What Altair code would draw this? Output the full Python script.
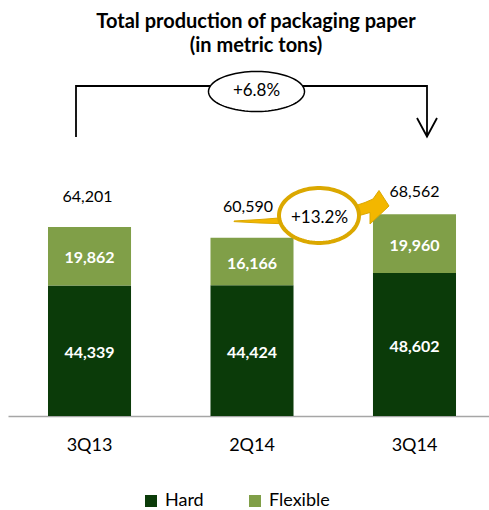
import math
import altair as alt
import pandas as pd

# ---------------- data ----------------
categories = ["3Q13", "2Q14", "3Q14"]
hard = [44339, 44424, 48602]
flexible = [19862, 16166, 19960]
totals = [64201, 60590, 68562]
series = ["Hard", "Flexible"]
change_year = "+6.8%"
change_quarter = "+13.2%"
title_lines = ["Total production of packaging paper", "(in metric tons)"]

# ---------------- style ----------------
colors = ["#0b3b09", "#809f48"]
GOLD = "#dba800"
ARROW_FILL = "#f3b700"
FONT = "Lato"
PAD_L, PAD_T = 8, 60
W, H = 481, 356

rows = []
for i, c in enumerate(categories):
    rows.append({"cat": c, "type": series[0], "value": hard[i], "order": 0})
    rows.append({"cat": c, "type": series[1], "value": flexible[i], "order": 1})
df = pd.DataFrame(rows)
tot_df = pd.DataFrame({"cat": categories, "total": totals})
anchor = pd.DataFrame({"a": [0]})

x_scale = alt.Scale(domain=categories, paddingInner=0.489, paddingOuter=0.2246, align=0.548)
y_scale = alt.Scale(domain=[0, 121000])
x_enc = alt.X(
    "cat:N", scale=x_scale, sort=categories,
    axis=alt.Axis(title=None, labelAngle=0, ticks=False, labelFontSize=18, labelFont=FONT,
                  labelColor="black", labelPadding=20, domainColor="#a6a6a6", domainWidth=1.5),
)

bars = alt.Chart(df).mark_bar().encode(
    x=x_enc,
    y=alt.Y("value:Q", stack="zero", scale=y_scale, axis=None),
    color=alt.Color(
        "type:N", scale=alt.Scale(domain=series, range=colors),
        legend=alt.Legend(title=None, orient="none", legendX=134, legendY=432, direction="horizontal",
                          symbolType="square", symbolSize=144, symbolStrokeWidth=0, labelFontSize=18,
                          labelFont=FONT, labelColor="black", columnPadding=42, labelOffset=5, padding=0),
    ),
    order=alt.Order("order:Q"),
)

seg_labels = alt.Chart(df).transform_stack(
    stack="value", groupby=["cat"], as_=["y0", "y1"], sort=[alt.SortField("order", order="ascending")]
).transform_calculate(mid="(datum.y0 + datum.y1) / 2").mark_text(
    font=FONT, fontSize=16, fontWeight="bold", color="white", dy=2
).encode(
    x=x_enc, y=alt.Y("mid:Q", scale=y_scale, axis=None), text=alt.Text("value:Q", format=",")
)

total_offsets = {"3Q13": (-2, -30), "2Q14": (-4, -31), "3Q14": (0, -22)}
total_layers = []
for c in categories:
    dx, dy = total_offsets[c]
    total_layers.append(
        alt.Chart(tot_df).transform_filter(alt.datum.cat == c).mark_text(
            font=FONT, fontSize=16, color="black", dx=dx, dy=dy
        ).encode(x=x_enc, y=alt.Y("total:Q", scale=y_scale, axis=None), text=alt.Text("total:Q", format=","))
    )


def path_of(points, cx, cy, close=True):
    s = "M " + " L ".join(f"{x - cx:.2f} {y - cy:.2f}" for x, y in points)
    return s + (" Z" if close else "")


def ellipse_pts(a, b, n=90):
    return [(a * math.cos(2 * math.pi * k / n), b * math.sin(2 * math.pi * k / n)) for k in range(n)]


def deco(path, px, py, **mark):
    return alt.Chart(anchor).mark_point(shape=path, size=4, opacity=1, **mark).encode(
        x=alt.value(px - PAD_L), y=alt.value(py - PAD_T)
    )


def label(text, px, py, size):
    return alt.Chart(anchor).mark_text(text=text, font=FONT, fontSize=size, color="black").encode(
        x=alt.value(px - PAD_L), y=alt.value(py - PAD_T)
    )


# bracket with down arrow (page pixel coordinates)
bracket = (path_of([(76, 137), (76, 86), (427, 86), (427, 136)], 0, 0, close=False)
           + " " + path_of([(417, 118), (427, 136.5), (437, 118)], 0, 0, close=False))
bracket_layer = deco(bracket, 0, 0, filled=False, stroke="black", strokeWidth=1.8, fill="transparent")
ell1 = deco(path_of(ellipse_pts(48, 20), 0, 0), 256.5, 91.5, filled=True, fill="white",
            stroke="black", strokeWidth=1.5)
txt1 = label(change_year, 256.5, 91, 17)

arrow_pts = [(234, 221), (260, 219.5), (285, 217.5), (320, 213), (350, 207.5), (365, 202.5),
             (373, 199), (379, 190.5), (389, 206), (370, 224), (370, 212.5), (356, 216.5),
             (320, 222.5), (285, 223.8), (260, 223), (234, 221.6)]
arrow = deco(path_of(arrow_pts, 0, 0), 0, 0, filled=True, fill=ARROW_FILL, stroke=GOLD, strokeWidth=1)
ell2 = deco(path_of(ellipse_pts(40, 27.5), 0, 0), 319, 215.5, filled=True, fill="white",
            stroke=GOLD, strokeWidth=4)
txt2 = label(change_quarter, 319.5, 218, 17)

chart = alt.layer(
    bars, seg_labels, *total_layers, bracket_layer, ell1, txt1, arrow, ell2, txt2
).properties(
    width=W, height=H,
    title=alt.TitleParams(title_lines, anchor="middle", font=FONT, fontSize=20, fontWeight="bold",
                          color="black", lineHeight=24, offset=4, dx=7.5, frame="group"),
    autosize=alt.AutoSizeParams(type="none"),
    padding={"left": PAD_L, "top": PAD_T, "right": 0, "bottom": 94},
).configure_view(stroke=None)

chart.save("out.html", embed_options={"renderer": "svg", "actions": False})
